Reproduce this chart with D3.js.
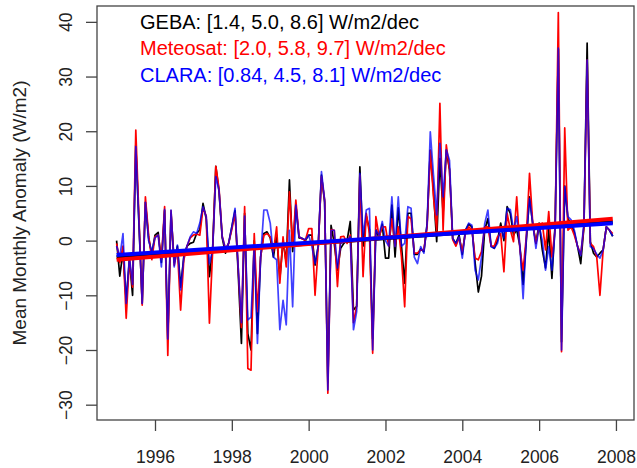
<!DOCTYPE html>
<html>
<head>
<meta charset="utf-8">
<script src="https://cdn.jsdelivr.net/npm/d3@7"></script>
<style>
  html, body { margin: 0; padding: 0; background: #fff; }
  svg { display: block; }
  text { font-family: "Liberation Sans", Arial, Helvetica, sans-serif; }
</style>
</head>
<body>
<svg id="chart" width="637" height="468"></svg>
<script>
// Monthly surface solar radiation anomalies, Jan 1995 - Dec 2007 (W/m2)
const startYear = 1995;

const gebaValues = [
  0, -6.5, -2, -11, -3.5, -10, 17.5, 3, -11.5, 7, 0.5, -2.5,
  1, 1.5, -4, 5.5, -18, 5, -4, -1, -8.5, -3, -1, -0.5,
  -0.3, 1.3, 2, 6.8, 4, -6.6, -1.5, 13.6, 9, 0.5, -2.3, -0.5,
  2.5, 5.5, -6, -18.8, 5, -17, -20, 0, -17, -3, 1.3, 1.6,
  0.5, -3, 1, -7, 0, -4, 11.1, -2, 6.5, 0.5, 0.4, 0,
  1, 1, -4.5, -1, 12, 7, -26, 2.8, -0.5, -5.4, -1.4, -0.5,
  0, 3.5, -12.7, -12, 13.5, -1, 4.5, 2, -18, 2, 0.5, 3,
  -3.2, -3.2, 6.5, -3, 6, -1, -7.8, 5, 5, -2.5, -2.5, -1.5,
  -2, 3, 16.5, 9, -0.2, 15, 5, 16.5, 13, 0.4, -0.5, 1,
  -2.5, 1.9, 3, 2.5, -4, -9.4, -6.5, 2, 4, -1, -1.4, 0,
  3.2, 0, 6.2, 5, 1, 2, -1, -8, 0, 8, 3, -0.5,
  3.2, -1.7, -5, 2, -6.9, 3, 35, -18.5, 10, 4, 3, 1.5,
  -1, -4.2, 2.5, 36.1, -0.2, -2.3, -3, -2.3, -1.7, 2.5, 1.9, 0.8
];

const meteosatValues = [
  -0.5, -4, -1, -14.2, -3.5, -8.5, 20.2, 4, -11.8, 8, 1, -3.5,
  0.7, 1, -3.5, 6.2, -21, 5.5, -4.5, -1.5, -12.7, -3.5, -1, 0.5,
  1, 1.2, 1, 6, 4.5, -15.1, -2, 13.6, 9.5, 0.8, -1.5, -0.5,
  2, 5, -5, -15.9, 6.2, -23.4, -23.7, 1.3, -13, -3, 1, 1.3,
  0.7, -2, 2.5, -7.8, 0.7, -4.8, 8.9, -1, 7.4, 0.7, 0.3, 0.1,
  2.2, 2.2, -10, -1, 11.7, 7.4, -27.9, 2, 1.9, -8.4, 0.7, 0.8,
  -0.5, 1, -15, -12, 12, -6.6, 5, 1.3, -20.6, 4.4, 0.7, 2.5,
  2.5, -1, 4, -1, 2.5, -3, -12.1, 4.4, 4, -2.3, -2.3, -1.7,
  -1.7, 2.5, 16.5, 8, 1.9, 25.1, 1.9, 17.5, 13, 0.2, -1, 0.5,
  -2, 1.5, 2.5, 2, -3.2, -3.5, -2, 2.5, 2.5, -1, -1, 0.7,
  1.3, -5.7, 5, 2, -0.2, 8, -1.7, -5.4, 0.7, 12.3, 3.2, -0.5,
  2.5, 3.2, -1.7, 5.3, -3, 2, 41.7, -20.3, 20.6, 1.9, 2.5, 1,
  -1, -2.5, 2.5, 33, -0.5, -1.1, -3, -10, -1.7, 2.5, 1.9, 1.3
];

const claraValues = [
  -1, -3, 1.3, -11.5, -3, -8, 17.2, 3, -11.5, 7, 0, -2,
  0.5, 1, -4.8, 5.7, -18, 5.6, -4.8, -0.8, -9, -3, -1, 0.7,
  1.6, 1.3, 3.2, 6.2, 4.4, -4.2, -1.7, 11.7, 9.2, 0.7, -1.5, -0.5,
  2.5, 5.9, -5, -15, 4.5, -14.5, -14, -1, -18.8, -3, 5.6, 5.6,
  3.2, -3, -3.5, -16.3, -10.9, -15.4, 1.9, -12.1, 6.5, 0.7, 0.4, 0.2,
  1, -1, -4.2, -1, 12.6, 7.4, -27.3, 1.9, 1.9, -5, -0.5, -0.3,
  0, 0.7, -16.3, -13, 12.3, 0.7, 5.6, 5.9, -20, 1.9, 1, 3.5,
  0, -1, 8, -1.1, 8, -1, -0.5, 6.2, 5.9, -3, -4.2, -1.1,
  -2.3, 3, 19.9, 12, 4.7, 17.8, 8, 16.6, 14.7, 0.4, -0.5, 0.7,
  -3.2, 1.9, 3.2, 2.8, -5.4, -7.2, -3, 3.1, 5.6, -1.1, -1.4, -0.5,
  2.5, 0.5, 5.9, 5.7, 1.9, 4.4, -1.1, -10.6, 0.5, 7.7, 3.2, -1.4,
  2.8, 0, -5.4, -1.1, -5.4, 2, 35.2, -20, 9.9, 4.4, 3.8, 1.9,
  -1.1, -2.7, 3.2, 33, -1.1, -1.5, -2.5, -3.2, -1.7, 2.5, 1.9, 0.8
];

// Series names, colours and decadal trend estimates [lower, central, upper] in W/m2/dec
const seriesNames = ["GEBA", "Meteosat", "CLARA"];
const seriesColors = ["#000000", "#ff0000", "#0000ff"];
const trendLower = [1.4, 2.0, 0.84];
const trendCentral = [5.0, 5.8, 4.5];
const trendUpper = [8.6, 9.7, 8.1];

const yTicks = [-30, -20, -10, 0, 10, 20, 30, 40];
const xTicks = [1996, 1998, 2000, 2002, 2004, 2006, 2008];

const yTitle = "Mean Monthly Anomaly (W/m2)";

// ---- layout ----
const svg = d3.select("#chart");
const plot = { left: 97, right: 634, top: 6, bottom: 420 };

const x = d3.scaleLinear().domain([1994.49, 2008.47]).range([plot.left, plot.right]);
const y = d3.scaleLinear().domain([-32.8, 42.9]).range([plot.bottom, plot.top]);

const allValues = [gebaValues, meteosatValues, claraValues];
const series = allValues.map((vals, k) => ({
  name: seriesNames[k],
  color: seriesColors[k],
  points: vals.map((v, i) => ({ t: startYear + i / 12, v }))
}));

// Trend line with the stated central slope, passing through the series mean
series.forEach((s, k) => {
  const tMean = d3.mean(s.points, d => d.t);
  const vMean = d3.mean(s.points, d => d.v);
  const slopePerYear = trendCentral[k] / 10;
  const t0 = s.points[0].t, t1 = s.points[s.points.length - 1].t;
  s.trend = [t0, t1].map(t => ({ t, v: vMean + slopePerYear * (t - tMean) }));
});

const clipId = "plot-clip";
svg.append("clipPath").attr("id", clipId)
  .append("rect")
  .attr("x", plot.left).attr("y", plot.top)
  .attr("width", plot.right - plot.left).attr("height", plot.bottom - plot.top);

const line = d3.line().x(d => x(d.t)).y(d => y(d.v));

const gLines = svg.append("g").attr("clip-path", `url(#${clipId})`);

// monthly series: GEBA, then Meteosat, then CLARA on top
gLines.selectAll("path.series")
  .data(series)
  .join("path")
  .attr("class", "series")
  .attr("d", d => line(d.points))
  .attr("fill", "none")
  .attr("stroke", d => d.color)
  .attr("stroke-opacity", (d, i) => i === 2 ? 0.75 : 1)
  .attr("stroke-width", 1.7)
  .attr("stroke-linejoin", "round");

// linear trends
gLines.selectAll("path.trend")
  .data(series)
  .join("path")
  .attr("class", "trend")
  .attr("d", d => line(d.trend))
  .attr("fill", "none")
  .attr("stroke", d => d.color)
  .attr("stroke-width", 4)
  .attr("stroke-linecap", "butt");

// ---- axes ----
const axisColor = "#444";
const textColor = "#222";

const yAxis = svg.append("g")
  .attr("transform", `translate(${plot.left},0)`)
  .call(d3.axisLeft(y).tickValues(yTicks).tickSize(11).tickFormat(d3.format("d")));
yAxis.select(".domain").remove();
yAxis.selectAll(".tick line").attr("stroke", axisColor).attr("stroke-width", 1.3);
yAxis.selectAll(".tick text")
  .attr("fill", textColor)
  .attr("font-size", 17.5)
  .attr("x", null).attr("dy", null)
  .attr("text-anchor", "middle")
  .attr("transform", "translate(-25.5,0) rotate(-90)");

const xAxis = svg.append("g")
  .attr("transform", `translate(0,${plot.bottom})`)
  .call(d3.axisBottom(x).tickValues(xTicks).tickSize(11).tickFormat(d3.format("d")));
xAxis.select(".domain").remove();
xAxis.selectAll(".tick line").attr("stroke", axisColor).attr("stroke-width", 1.3);
xAxis.selectAll(".tick text")
  .attr("fill", textColor)
  .attr("font-size", 17.5)
  .attr("dy", null)
  .attr("y", 43);

// plot box
svg.append("rect")
  .attr("x", plot.left).attr("y", plot.top)
  .attr("width", plot.right - plot.left).attr("height", plot.bottom - plot.top)
  .attr("fill", "none")
  .attr("stroke", axisColor)
  .attr("stroke-width", 1.3);

// y axis title
svg.append("text")
  .attr("transform", `translate(25.5,${(plot.top + plot.bottom) / 2}) rotate(-90)`)
  .attr("text-anchor", "middle")
  .attr("font-size", 19)
  .attr("fill", textColor)
  .text(yTitle);

// trend legend
const fmt = v => v < 1 ? v.toFixed(2) : v.toFixed(1);
svg.append("g")
  .selectAll("text")
  .data(series)
  .join("text")
  .attr("x", 140)
  .attr("y", (d, i) => 28.5 + i * 26.7)
  .attr("font-size", 20)
  .attr("fill", d => d.color)
  .text((d, i) => `${d.name}: [${fmt(trendLower[i])}, ${fmt(trendCentral[i])}, ${fmt(trendUpper[i])}] W/m2/dec`);
</script>
</body>
</html>
